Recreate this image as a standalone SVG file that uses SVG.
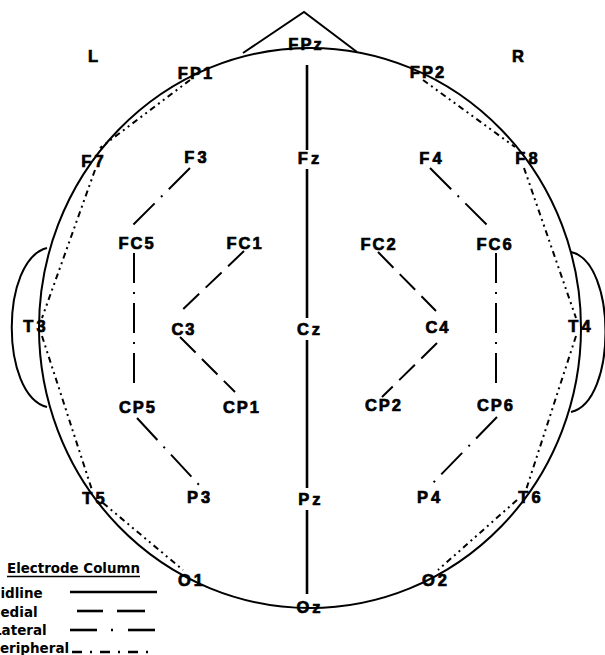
<svg xmlns="http://www.w3.org/2000/svg" width="605" height="655" viewBox="0 0 605 655">
<style>
  .head{fill:none;stroke:#000;stroke-width:2}
  .lb{font-family:"Liberation Sans",Arial,sans-serif;font-weight:bold;font-size:16.5px;fill:#000;stroke:#000;stroke-width:0.7px;text-anchor:middle;letter-spacing:2px}
  .lb2{letter-spacing:3px}
  .side{font-family:"Liberation Sans",Arial,sans-serif;font-weight:bold;font-size:16.5px;fill:#000;stroke:#000;stroke-width:0.7px;text-anchor:middle}
  .lg{font-family:"DejaVu Sans",sans-serif;font-weight:bold;font-size:13.5px;fill:#000}
  .mid{stroke:#000;stroke-width:2.6;fill:none}
  .med{stroke:#000;stroke-width:2;fill:none;stroke-dasharray:22 9}
  .lat{stroke:#000;stroke-width:2;fill:none;stroke-dasharray:30 9 2 9}
  .per{stroke:#000;stroke-width:2;fill:none;stroke-dasharray:6 4 2 4 2 4}
</style>
<rect width="605" height="655" fill="#fff"/>
<g id="head">
  <ellipse class="head" cx="310" cy="328" rx="271" ry="280"/>
  <path class="head" d="M243,53 L304,12 L357,52"/>
  <path class="head" d="M47,248 C0,260 0,395 47,407"/>
  <path class="head" d="M571,252 C617,262 617,402 571,412"/>
  <text class="side" x="93" y="62">L</text>
  <text class="side" x="518" y="62">R</text>
</g>
<g id="connectors">
  <line class="mid" x1="307" y1="65" x2="307" y2="150"/>
  <line class="mid" x1="307" y1="169" x2="307" y2="318"/>
  <line class="mid" x1="307" y1="340" x2="307" y2="488"/>
  <line class="mid" x1="307" y1="510" x2="307" y2="594"/>
  <line class="med" x1="244" y1="251" x2="177" y2="315"/>
  <line class="med" x1="180" y1="337" x2="235" y2="392"/>
  <line class="med" x1="378" y1="252" x2="436" y2="311"/>
  <line class="med" x1="437" y1="343" x2="382" y2="397"/>
  <line class="lat" x1="190" y1="168" x2="130" y2="228"/>
  <line class="lat" x1="134" y1="253" x2="134" y2="392"/>
  <line class="lat" x1="137" y1="418" x2="200" y2="486"/>
  <line class="lat" x1="430" y1="168" x2="490" y2="228"/>
  <line class="lat" x1="496" y1="253" x2="496" y2="391"/>
  <line class="lat" x1="497" y1="417" x2="430" y2="486"/>
  <line class="per" x1="190" y1="80" x2="100" y2="148"/>
  <line class="per" x1="95" y1="170" x2="42" y2="318"/>
  <line class="per" x1="42" y1="336" x2="92" y2="490"/>
  <line class="per" x1="103" y1="503" x2="183" y2="570"/>
  <line class="per" x1="423" y1="80" x2="515" y2="147"/>
  <line class="per" x1="524" y1="168" x2="576" y2="318"/>
  <line class="per" x1="576" y1="336" x2="526" y2="490"/>
  <line class="per" x1="517" y1="500" x2="438" y2="570"/>
</g>
<g id="FPz"><text class="lb" x="306" y="50">FPz</text></g>
<g id="FP1"><text class="lb" x="196" y="79">FP1</text></g>
<g id="FP2"><text class="lb" x="428" y="78">FP2</text></g>
<g id="F7"><text class="lb lb2" x="94" y="167">F7</text></g>
<g id="F3"><text class="lb lb2" x="197" y="163">F3</text></g>
<g id="Fz"><text class="lb lb2" x="310" y="164">Fz</text></g>
<g id="F4"><text class="lb lb2" x="432" y="164">F4</text></g>
<g id="F8"><text class="lb lb2" x="528" y="164">F8</text></g>
<g id="FC5"><text class="lb" x="137" y="249">FC5</text></g>
<g id="FC1"><text class="lb" x="245" y="249">FC1</text></g>
<g id="FC2"><text class="lb" x="379" y="250">FC2</text></g>
<g id="FC6"><text class="lb" x="495" y="250">FC6</text></g>
<g id="T3"><text class="lb lb2" x="36" y="332">T3</text></g>
<g id="C3"><text class="lb" x="184" y="335">C3</text></g>
<g id="Cz"><text class="lb lb2" x="310" y="335">Cz</text></g>
<g id="C4"><text class="lb" x="438" y="333">C4</text></g>
<g id="T4"><text class="lb lb2" x="581" y="332">T4</text></g>
<g id="CP5"><text class="lb" x="138" y="413">CP5</text></g>
<g id="CP1"><text class="lb" x="242" y="413">CP1</text></g>
<g id="CP2"><text class="lb" x="384" y="411">CP2</text></g>
<g id="CP6"><text class="lb" x="496" y="411">CP6</text></g>
<g id="T5"><text class="lb lb2" x="95" y="504">T5</text></g>
<g id="P3"><text class="lb lb2" x="200" y="503">P3</text></g>
<g id="Pz"><text class="lb lb2" x="311" y="505">Pz</text></g>
<g id="P4"><text class="lb lb2" x="430" y="503">P4</text></g>
<g id="T6"><text class="lb lb2" x="531" y="503">T6</text></g>
<g id="O1"><text class="lb lb2" x="192" y="586">O1</text></g>
<g id="Oz"><text class="lb lb2" x="310" y="613">Oz</text></g>
<g id="O2"><text class="lb lb2" x="436" y="586">O2</text></g>
<g id="legend">
  <text class="lg" x="7" y="573" textLength="133" lengthAdjust="spacingAndGlyphs">Electrode Column</text>
  <line x1="7" y1="576.5" x2="140" y2="576.5" stroke="#000" stroke-width="1.3"/>
  <text class="lg" x="-13" y="598">Midline</text>
  <text class="lg" x="-13" y="617">Medial</text>
  <text class="lg" x="-7" y="635">Lateral</text>
  <text class="lg" x="-10" y="653">Peripheral</text>
  <line x1="70" y1="592" x2="157" y2="592" stroke="#000" stroke-width="2.6"/>
  <line x1="77" y1="611" x2="103" y2="611" stroke="#000" stroke-width="2.6"/>
  <line x1="117" y1="611" x2="145" y2="611" stroke="#000" stroke-width="2.6"/>
  <line x1="70" y1="630" x2="97" y2="630" stroke="#000" stroke-width="2.6"/>
  <line x1="111" y1="630" x2="113" y2="630" stroke="#000" stroke-width="2.6"/>
  <line x1="128" y1="630" x2="155" y2="630" stroke="#000" stroke-width="2.6"/>
  <line x1="72" y1="652" x2="156" y2="652" stroke="#000" stroke-width="2.6" stroke-dasharray="10 8 2 8"/>
</g>
</svg>
